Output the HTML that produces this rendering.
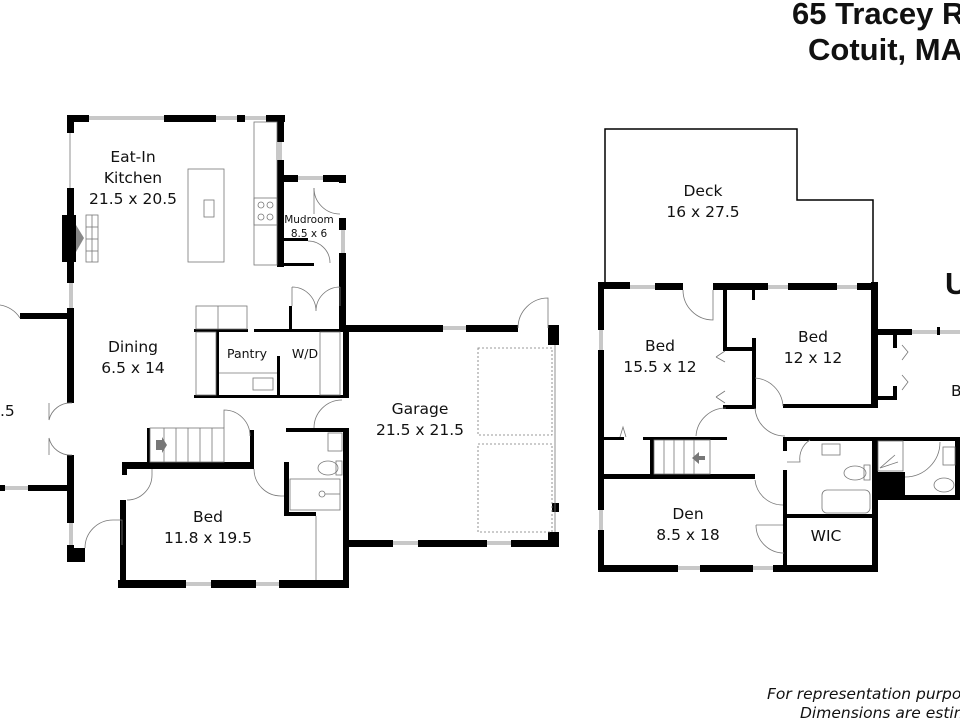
<!DOCTYPE html>
<html><head><meta charset="utf-8"><style>
html,body{margin:0;padding:0;background:#fff;}
svg{display:block;}
text{font-family:"DejaVu Sans","Liberation Sans",sans-serif;fill:#111;}
</style></head><body>
<svg width="960" height="720" viewBox="0 0 960 720" xmlns="http://www.w3.org/2000/svg">
<rect width="960" height="720" fill="#fff"/>
<g fill="#000">
<rect x="67" y="115" width="22" height="7"/><rect x="164" y="115" width="52" height="7"/><rect x="237" y="115" width="8" height="7"/><rect x="266" y="115" width="19" height="7"/>
<rect x="67" y="115" width="7" height="18"/><rect x="67" y="188" width="7" height="95"/><rect x="67" y="308" width="7" height="95"/><rect x="67" y="455" width="7" height="68"/><rect x="67" y="545" width="7" height="17"/><rect x="67" y="548" width="18" height="14"/>
<rect x="62" y="215" width="14" height="47"/>
<rect x="20" y="313" width="54" height="6"/><rect x="28" y="485" width="46" height="6"/><rect x="0" y="485" width="5" height="6"/>
<rect x="277" y="115" width="7" height="27"/><rect x="277" y="160" width="7" height="107"/>
<rect x="277" y="175" width="21" height="7"/><rect x="323" y="175" width="23" height="7"/><rect x="339" y="175" width="7" height="8"/><rect x="339" y="218" width="7" height="12"/><rect x="339" y="253" width="7" height="78"/>
<rect x="284" y="238" width="24" height="3"/><rect x="277" y="263" width="37" height="3"/>
<rect x="194" y="329" width="54" height="3"/><rect x="254" y="329" width="92" height="3"/><rect x="289" y="306" width="3" height="26"/>
<rect x="216" y="332" width="3" height="66"/><rect x="277" y="356" width="3" height="42"/><rect x="194" y="395" width="152" height="3"/>
<rect x="343" y="325" width="100" height="7"/><rect x="466" y="325" width="52" height="7"/><rect x="548" y="325" width="11" height="20"/><rect x="552" y="503" width="7" height="9"/><rect x="548" y="532" width="11" height="15"/>
<rect x="343" y="540" width="50" height="7"/><rect x="418" y="540" width="69" height="7"/><rect x="511" y="540" width="48" height="7"/>
<rect x="343" y="325" width="6" height="73"/><rect x="343" y="428" width="6" height="160"/>
<rect x="286" y="428" width="60" height="4"/><rect x="284" y="462" width="5" height="54"/><rect x="284" y="512" width="32" height="4"/>
<rect x="122" y="462" width="132" height="7"/><rect x="250" y="430" width="4" height="39"/><rect x="122" y="462" width="5" height="13"/><rect x="120" y="500" width="6" height="88"/>
<rect x="118" y="580" width="68" height="8"/><rect x="211" y="580" width="45" height="8"/><rect x="279" y="580" width="70" height="8"/>
<rect x="147" y="428" width="3" height="36"/>
</g>
<g fill="#c8c8c8">
<rect x="89" y="116" width="75" height="4"/><rect x="216" y="116" width="21" height="4"/><rect x="245" y="116" width="21" height="4"/>
<rect x="69" y="283" width="4" height="25"/><rect x="69" y="523" width="4" height="22"/><rect x="278" y="142" width="4" height="18"/>
<rect x="298" y="176" width="25" height="4"/><rect x="341" y="230" width="4" height="23"/><rect x="443" y="326" width="23" height="4"/>
<rect x="393" y="541" width="25" height="4"/><rect x="487" y="541" width="24" height="4"/><rect x="5" y="486" width="23" height="4"/>
<rect x="186" y="582" width="25" height="4"/><rect x="256" y="582" width="23" height="4"/>
</g>
<g fill="none" stroke="#777" stroke-width="0.8">
<line x1="70" y1="133" x2="70" y2="188"/>
<rect x="188" y="169" width="36" height="93"/><rect x="204" y="200" width="10" height="17"/>
<rect x="254" y="122" width="23" height="143"/><rect x="254" y="198" width="23" height="27"/>
<circle cx="261" cy="205" r="3"/><circle cx="270" cy="205" r="3"/><circle cx="261" cy="217" r="3"/><circle cx="270" cy="217" r="3"/>
<rect x="86" y="215" width="12" height="47"/>
<line x1="86" y1="227" x2="98" y2="227"/><line x1="86" y1="239" x2="98" y2="239"/><line x1="86" y1="251" x2="98" y2="251"/><line x1="92" y1="215" x2="92" y2="262"/>
<rect x="196" y="306" width="51" height="23"/><line x1="218" y1="306" x2="218" y2="329"/>
<rect x="196" y="332" width="20" height="63"/><line x1="219" y1="373" x2="277" y2="373"/><rect x="253" y="378" width="20" height="12"/>
<rect x="320" y="332" width="20" height="63"/>
<path d="M314 188 A26 26 0 0 0 340 214"/><line x1="314" y1="188" x2="314" y2="214"/>
<path d="M308 241 A22 22 0 0 1 330 263"/>
<path d="M292 306 L292 287 M292 287 A24 24 0 0 1 316 311 M340 287 A24 24 0 0 0 316 311 M340 287 L340 306"/>
<path d="M518 328 A30 30 0 0 1 548 298 L548 328"/>
<rect x="478" y="348" width="74" height="87" stroke-dasharray="2 2"/><rect x="478" y="444" width="74" height="88" stroke-dasharray="2 2"/>
<line x1="555" y1="345" x2="555" y2="532"/>
<path d="M314 428 A28 28 0 0 1 342 400"/>
<path d="M224 428 L224 410 A26 26 0 0 1 250 436"/>
<path d="M254 469 A27 27 0 0 0 281 496 L284 496"/>
<path d="M127 500 A25 25 0 0 0 152 475 L152 469"/>
<path d="M49 403 L49 420 A22 22 0 0 1 72 403 M49 455 L49 438 A22 22 0 0 0 72 455"/>
<path d="M85 548 A28 28 0 0 1 113 520 L122 520 L122 545"/>
<rect x="150" y="428" width="74" height="34"/>
<line x1="164" y1="428" x2="164" y2="462"/><line x1="176" y1="428" x2="176" y2="462"/><line x1="188" y1="428" x2="188" y2="462"/><line x1="200" y1="428" x2="200" y2="462"/><line x1="212" y1="428" x2="212" y2="462"/>
<rect x="328" y="433" width="14" height="18"/><ellipse cx="328" cy="468" rx="10" ry="7"/><rect x="336" y="461" width="6" height="14"/>
<rect x="290" y="479" width="50" height="31"/><circle cx="322" cy="494" r="3"/><line x1="325" y1="494" x2="340" y2="494"/>
<line x1="316" y1="516" x2="316" y2="580"/>
<path d="M0 305 A30 30 0 0 1 20 318"/>
</g>
<path d="M156 440 L162 440 L162 437 L167 445 L162 453 L162 450 L156 450 Z" fill="#777"/>
<path d="M76 225 L84 238 L76 252 Z" fill="#888"/>
<g fill="none" stroke="#000" stroke-width="1.5">
<path d="M605 287 L605 129 L797 129 L797 200 L873 200 L873 287"/>
</g>
<g fill="#000">
<rect x="598" y="282" width="32" height="7"/><rect x="655" y="283" width="28" height="7"/><rect x="713" y="283" width="55" height="7"/><rect x="788" y="283" width="49" height="7"/><rect x="857" y="283" width="21" height="7"/>
<rect x="871" y="282" width="7" height="126"/>
<rect x="598" y="282" width="6" height="48"/><rect x="598" y="350" width="6" height="160"/><rect x="598" y="530" width="6" height="42"/>
<rect x="723" y="288" width="4" height="62"/><rect x="723" y="347" width="32" height="4"/><rect x="752" y="288" width="3" height="12"/><rect x="752" y="338" width="4" height="70"/><rect x="723" y="405" width="33" height="4"/>
<rect x="783" y="404" width="95" height="4"/>
<rect x="872" y="329" width="40" height="6"/><rect x="893" y="334" width="4" height="14"/><rect x="893" y="386" width="4" height="14"/><rect x="878" y="396" width="19" height="4"/>
<rect x="604" y="437" width="20" height="3"/><rect x="643" y="437" width="84" height="3"/><rect x="650" y="437" width="4" height="40"/>
<rect x="604" y="474" width="151" height="5"/>
<rect x="783" y="437" width="177" height="4"/><rect x="783" y="437" width="4" height="14"/><rect x="783" y="470" width="4" height="37"/><rect x="783" y="485" width="4" height="87"/>
<rect x="787" y="514" width="88" height="4"/><rect x="872" y="437" width="6" height="135"/>
<rect x="873" y="472" width="32" height="28"/><rect x="903" y="495" width="57" height="5"/><rect x="955" y="437" width="5" height="60"/>
<rect x="598" y="565" width="80" height="7"/><rect x="700" y="565" width="53" height="7"/><rect x="773" y="565" width="105" height="7"/>
</g>
<g fill="#c8c8c8">
<rect x="630" y="285" width="25" height="4"/><rect x="768" y="285" width="20" height="4"/><rect x="837" y="285" width="20" height="4"/>
<rect x="599" y="330" width="4" height="20"/><rect x="599" y="510" width="4" height="20"/>
<rect x="678" y="566" width="22" height="4"/><rect x="753" y="566" width="20" height="4"/><rect x="912" y="330" width="48" height="4"/>
</g>
<rect x="937" y="327" width="3" height="8" fill="#000"/>
<g fill="none" stroke="#777" stroke-width="0.8">
<path d="M683 290 A30 30 0 0 0 713 320 L713 290"/>
<path d="M755 378 A30 30 0 0 1 783 406"/>
<path d="M696 436 A30 30 0 0 1 726 408"/>
<path d="M755 408 A30 30 0 0 0 785 436"/>
<path d="M755 480 A28 28 0 0 0 783 505"/>
<path d="M756 525 A28 28 0 0 0 784 553 M756 525 L783 525"/>
<path d="M787 462 L800 462 A22 22 0 0 1 810 440"/>
<path d="M905 477 A35 35 0 0 0 940 442"/>
<path d="M716 357 L725 351 M716 357 L725 362 M716 397 L725 391 M716 397 L725 403"/>
<path d="M620 437 L623 427 L626 437"/>
<rect x="654" y="440" width="56" height="34"/>
<line x1="664" y1="440" x2="664" y2="474"/><line x1="674" y1="440" x2="674" y2="474"/><line x1="684" y1="440" x2="684" y2="474"/><line x1="694" y1="440" x2="694" y2="474"/>
<rect x="822" y="444" width="18" height="11"/><ellipse cx="855" cy="473" rx="11" ry="7"/><rect x="864" y="465" width="6" height="15"/>
<rect x="822" y="490" width="48" height="23" rx="5"/>
<rect x="878" y="441" width="25" height="30"/><line x1="880" y1="468" x2="895" y2="455"/><line x1="880" y1="468" x2="898" y2="462"/>
<rect x="943" y="447" width="12" height="18"/><ellipse cx="944" cy="485" rx="10" ry="7"/>
<path d="M902 345 L908 352 L902 360 M902 375 L908 382 L902 390"/>
</g>
<path d="M705 456 L699 456 L699 452 L692 458 L699 464 L699 460 L705 460 Z" fill="#777"/>
<g font-size="15.5" text-anchor="middle">
<text x="133" y="162">Eat-In</text><text x="133" y="183">Kitchen</text><text x="133" y="204">21.5 x 20.5</text>
<text x="133" y="352">Dining</text><text x="133" y="373">6.5 x 14</text>
<text x="420" y="414">Garage</text><text x="420" y="435">21.5 x 21.5</text>
<text x="208" y="522">Bed</text><text x="208" y="543">11.8 x 19.5</text>
<text x="703" y="196">Deck</text><text x="703" y="217">16 x 27.5</text>
<text x="660" y="351">Bed</text><text x="660" y="372">15.5 x 12</text>
<text x="813" y="342">Bed</text><text x="813" y="363">12 x 12</text>
<text x="688" y="519">Den</text><text x="688" y="540">8.5 x 18</text>
<text x="826" y="541">WIC</text>
<text x="0" y="416" text-anchor="start">.5</text>
<text x="951" y="396" text-anchor="start">B</text>
</g>
<g font-size="10.5" text-anchor="middle">
<text x="309" y="223">Mudroom</text><text x="309" y="237">8.5 x 6</text>
</g>
<g font-size="12.5" text-anchor="middle">
<text x="247" y="358">Pantry</text><text x="305" y="358">W/D</text>
</g>
<g font-weight="bold" font-size="31">
<text x="792" y="24" style="font-family:'Liberation Sans',sans-serif">65 Tracey R</text>
<text x="808" y="60" style="font-family:'Liberation Sans',sans-serif">Cotuit, MA</text>
<text x="945" y="294" style="font-family:'Liberation Sans',sans-serif">U</text>
</g>
<g font-style="italic" font-size="15.5">
<text x="767" y="699">For representation purpo</text>
<text x="800" y="718">Dimensions are estim</text>
</g>
</svg>
</body></html>
